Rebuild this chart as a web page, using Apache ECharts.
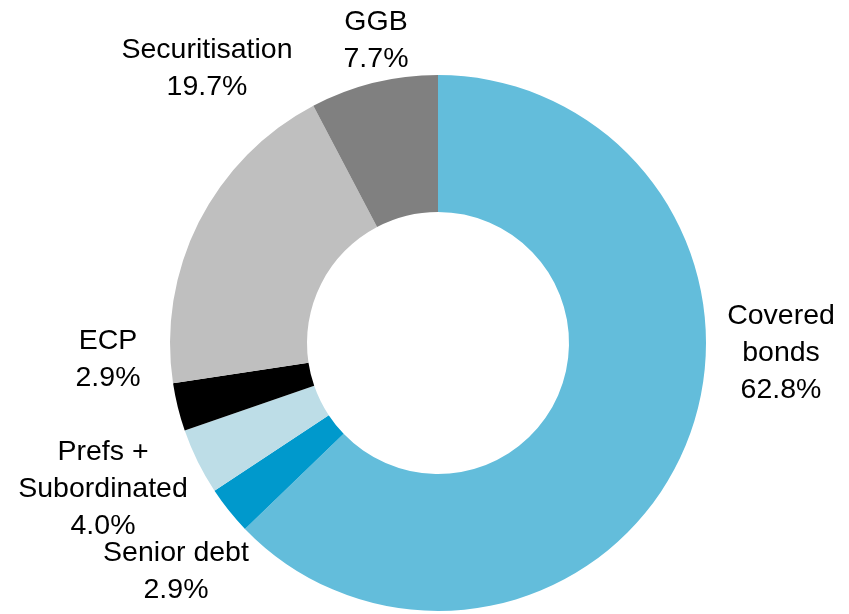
<!DOCTYPE html>
<html>
<head>
<meta charset="utf-8">
<script src="https://cdn.jsdelivr.net/npm/echarts@6/dist/echarts.min.js"></script>
<style>
  html, body { margin: 0; padding: 0; background: #ffffff; }
  #chart { width: 849px; height: 614px; }
</style>
</head>
<body>
<div id="chart"></div>
<script>
// Funding mix by instrument (% of total), clockwise from 12 o'clock
const categories = ['Covered\nbonds', 'Senior debt', 'Prefs +\nSubordinated', 'ECP', 'Securitisation', 'GGB'];
const shares = [62.8, 2.9, 4.0, 2.9, 19.7, 7.7];
const colors = ['#63BDDB', '#0099CC', '#BDDDE7', '#000000', '#BFBFBF', '#808080'];

// Centre point of each label block, in pixels
const labelSpots = [
  [781, 353], [176, 572], [103, 489], [108, 360], [207, 69], [376, 41]
];

const chart = echarts.init(document.getElementById('chart'), null, { renderer: 'canvas' });

chart.setOption({
  animation: false,
  series: [{
    type: 'pie',
    center: [438, 343],
    radius: [131, 268],
    startAngle: 90,
    clockwise: true,
    avoidLabelOverlap: false,
    itemStyle: { borderWidth: 0 },
    emphasis: { disabled: true },
    label: {
      show: true,
      position: 'outside',
      formatter: p => p.name + '\n' + p.value.toFixed(1) + '%',
      fontFamily: 'Liberation Sans, Arial, sans-serif',
      fontSize: 28.5,
      lineHeight: 37,
      color: '#000000',
      align: 'center'
    },
    labelLine: { show: false },
    labelLayout: p => ({
      x: labelSpots[p.dataIndex][0],
      y: labelSpots[p.dataIndex][1],
      align: 'center',
      verticalAlign: 'middle'
    }),
    data: categories.map((name, i) => ({
      name: name,
      value: shares[i],
      itemStyle: { color: colors[i] }
    }))
  }]
});
</script>
</body>
</html>
